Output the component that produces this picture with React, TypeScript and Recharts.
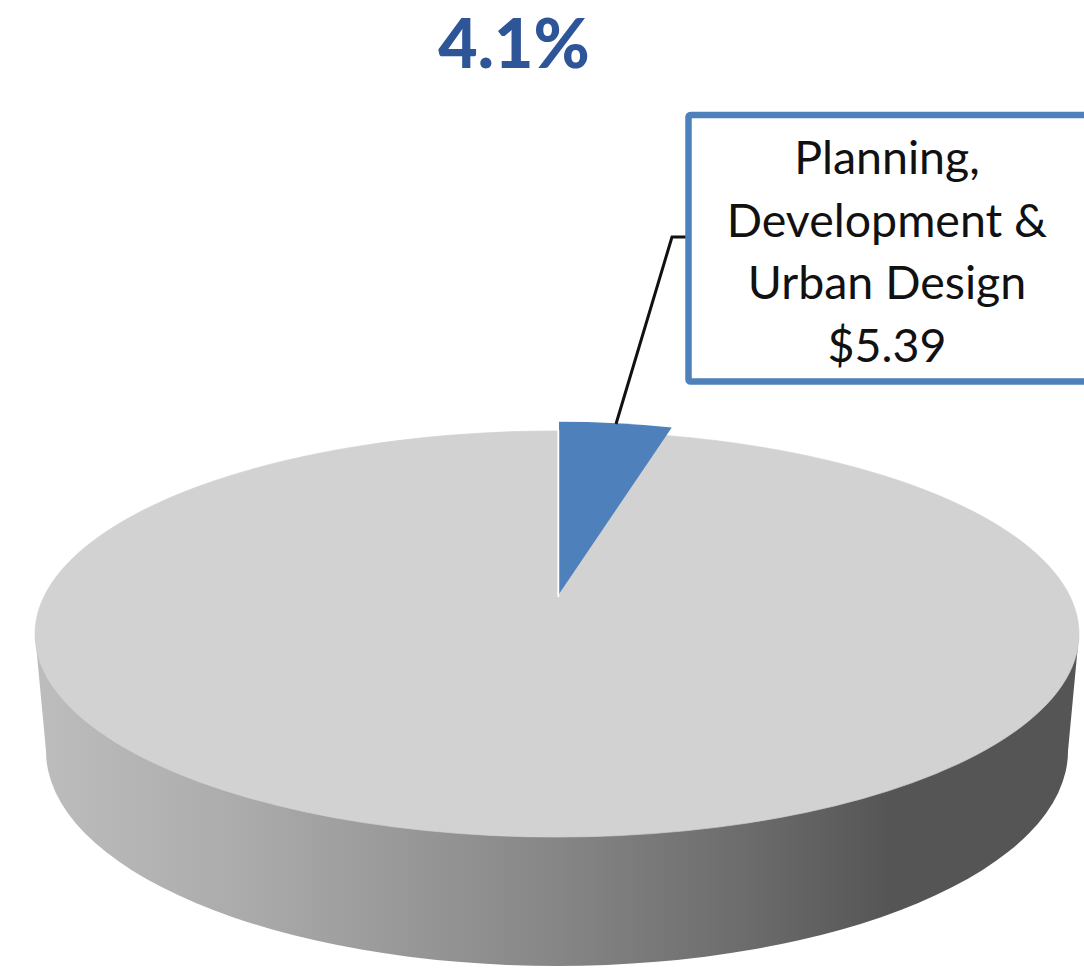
import { Pie, PieChart, Sector } from "recharts";

const categories = ["Planning, Development & Urban Design", "All other"];
const budgetValues = [5.39, 126.07];
const calloutLines = ["Planning,", "Development &", "Urban Design", "$5.39"];
const shareTitle = "4.1%";

const sliceData = categories.map((name, i) => ({ name, value: budgetValues[i] }));
const wallData = [{ name: "wall", value: budgetValues[0] + budgetValues[1] }];

const TILT = 0.389;
const BLUE = "#4e80bb";
const GRAY = "#d2d2d2";

function WallShape({ cx, cy, outerRadius }: any) {
    const bottomRx = outerRadius - 11;
    const bottomRy = 215;
    const bottomY = cy + 117;
    const d = `M ${cx - outerRadius} ${cy} L ${cx - bottomRx} ${bottomY} A ${bottomRx} ${bottomRy} 0 0 0 ${cx + bottomRx} ${bottomY} L ${cx + outerRadius} ${cy} Z`;
    return (
        <g>
            <defs>
                <linearGradient id="wallShade" x1="0" y1="0" x2="1" y2="0">
                    <stop offset="0%" stopColor="#bdbdbd" />
                    <stop offset="20%" stopColor="#ababab" />
                    <stop offset="50%" stopColor="#868686" />
                    <stop offset="68%" stopColor="#6c6c6c" />
                    <stop offset="82%" stopColor="#555555" />
                    <stop offset="100%" stopColor="#555555" />
                </linearGradient>
            </defs>
            <path d={d} fill="url(#wallShade)" />
        </g>
    );
}

function SliceShape(props: any) {
    const { cx, cy, outerRadius, startAngle, endAngle, index } = props;
    const squash = `translate(${cx} ${cy}) scale(1 ${TILT}) translate(${-cx} ${-cy})`;
    const base = (
        <g transform={squash}>
            <Sector
                cx={cx}
                cy={cy}
                innerRadius={0}
                outerRadius={outerRadius}
                startAngle={startAngle}
                endAngle={endAngle}
                fill={GRAY}
                stroke={GRAY}
            />
        </g>
    );
    if (index !== 0) return base;

    // the pulled out slice sits a bit higher and is drawn smaller
    const blueRadius = outerRadius * 0.848;
    return (
        <g>
            {base}
            <g transform={`translate(2 -40)`}>
                <g transform={squash}>
                    <Sector
                        cx={cx}
                        cy={cy}
                        innerRadius={0}
                        outerRadius={blueRadius}
                        startAngle={startAngle}
                        endAngle={endAngle}
                        fill={BLUE}
                    />
                </g>
                <line
                    x1={cx - 1}
                    y1={cy + 3}
                    x2={cx - 1}
                    y2={cy - blueRadius * TILT + 8}
                    stroke="#ffffff"
                    strokeWidth={2.5}
                />
            </g>
        </g>
    );
}

function Callout({ index }: any) {
    if (index !== 0) return null;
    return (
        <g>
            <polyline
                points="616,424 672,237 688,237"
                fill="none"
                stroke="#111111"
                strokeWidth={3}
            />
            <rect
                x={688.5}
                y={115}
                width={440}
                height={266.5}
                rx={2}
                fill="#ffffff"
                stroke={BLUE}
                strokeWidth={6.5}
            />
            {calloutLines.map((line, i) => (
                <text
                    key={line}
                    x={887}
                    y={174 + i * 62.5}
                    textAnchor="middle"
                    fontFamily="Lato"
                    fontSize={46.5}
                    fill="#111111"
                >
                    {line}
                </text>
            ))}
        </g>
    );
}

export default function App() {
    return (
        <div style={{ position: "absolute", left: 0, top: 0, width: 1084, height: 972, background: "#ffffff" }}>
            <PieChart width={1084} height={972} margin={{ top: 0, right: 0, bottom: 0, left: 0 }}>
                <text
                    x={514}
                    y={68}
                    textAnchor="middle"
                    fontFamily="Lato"
                    fontWeight={900}
                    fontSize={68}
                    fill="#2e5597"
                >
                    {shareTitle}
                </text>
                <Pie
                    data={wallData}
                    dataKey="value"
                    cx={557}
                    cy={634}
                    innerRadius={0}
                    outerRadius={522}
                    stroke="none"
                    shape={WallShape}
                    isAnimationActive={false}
                />
                <Pie
                    data={sliceData}
                    dataKey="value"
                    nameKey="name"
                    cx={557}
                    cy={634}
                    innerRadius={0}
                    outerRadius={522}
                    startAngle={90}
                    endAngle={-270}
                    stroke="none"
                    shape={SliceShape}
                    label={Callout}
                    labelLine={false}
                    isAnimationActive={false}
                />
            </PieChart>
        </div>
    );
}
